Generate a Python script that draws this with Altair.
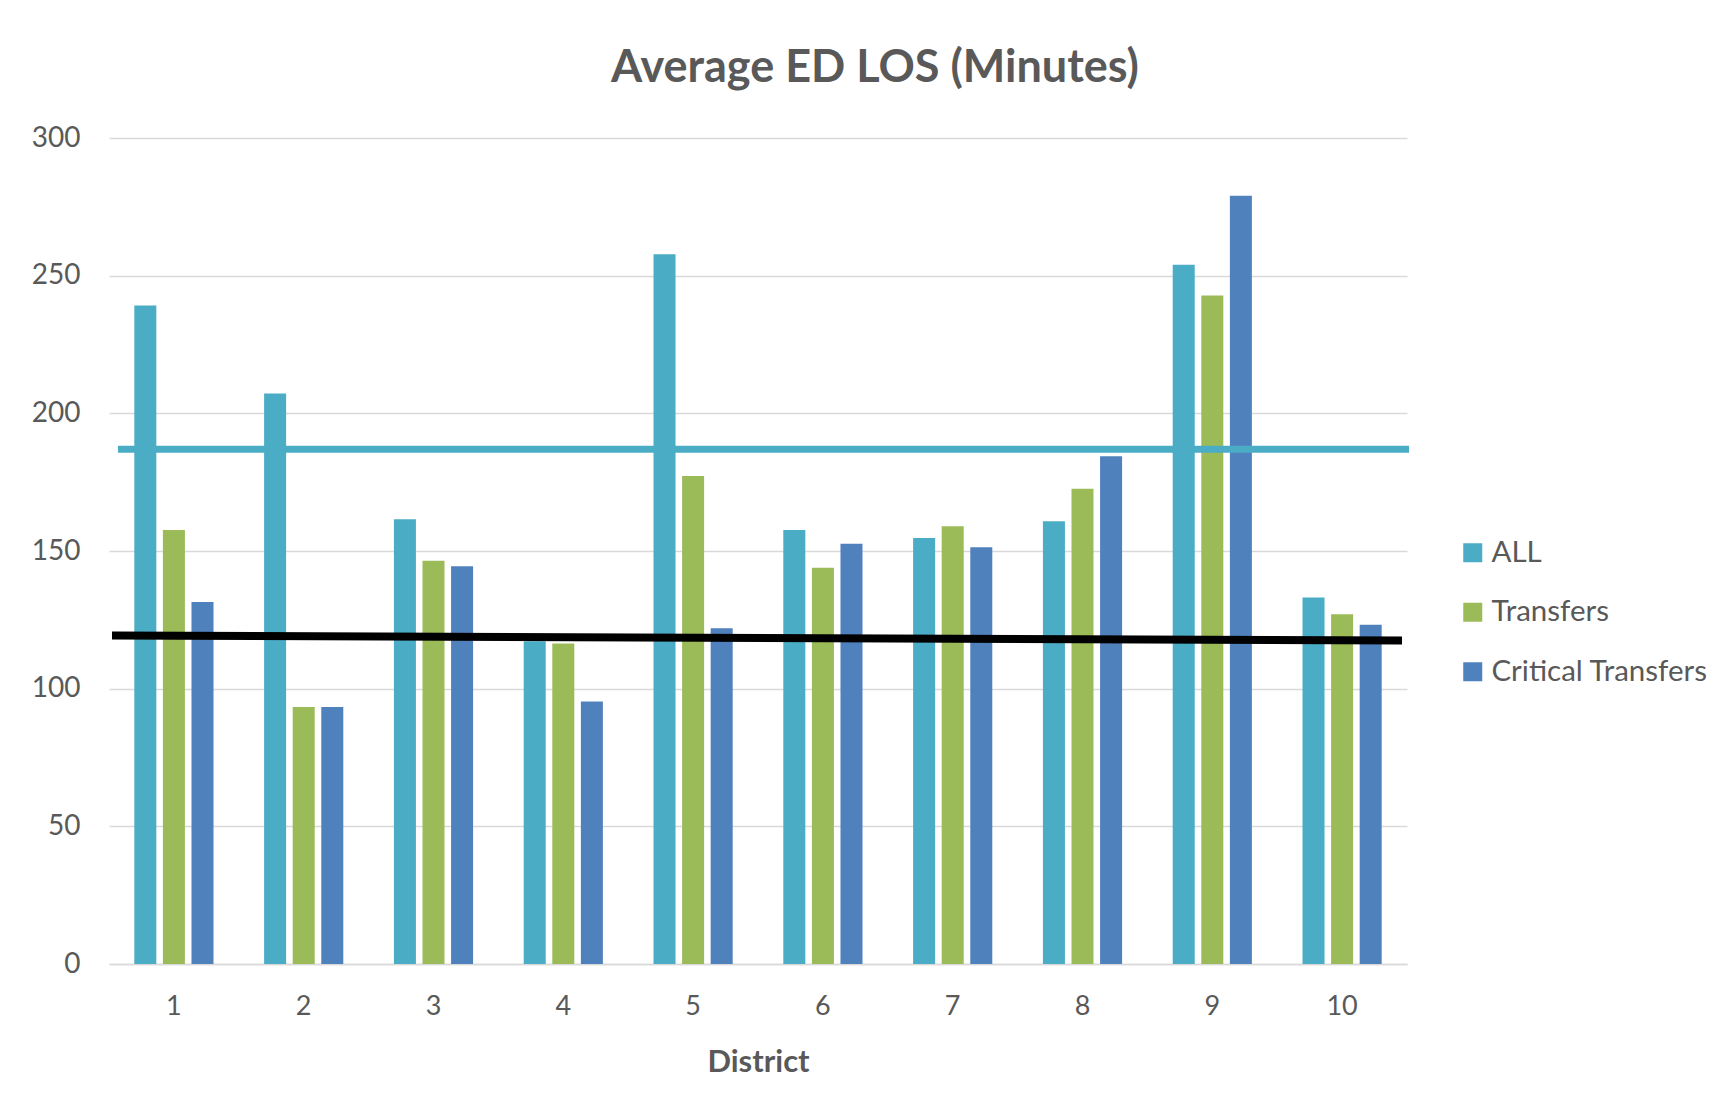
import altair as alt
import pandas as pd

districts = ["1", "2", "3", "4", "5", "6", "7", "8", "9", "10"]
series_names = ["ALL", "Transfers", "Critical Transfers"]
all_vals = [239.2, 207.2, 161.5, 117.2, 257.8, 157.6, 154.7, 160.8, 254.0, 133.1]
transfers_vals = [157.6, 93.3, 146.5, 116.4, 177.2, 143.9, 159.0, 172.6, 242.8, 127.0]
critical_vals = [131.5, 93.3, 144.5, 95.3, 121.9, 152.6, 151.4, 184.4, 279.0, 123.2]
colors = ["#4BACC6", "#9BBB59", "#4F81BD"]
all_average = 187.0
overall_start, overall_end = 119.3, 117.5

rows = []
for name, vals in zip(series_names, [all_vals, transfers_vals, critical_vals]):
    for d, v in zip(districts, vals):
        rows.append({"District": d, "Series": name, "Minutes": v})
df = pd.DataFrame(rows)

FONT = "Lato"
GRAY = "#595959"
W, H = 1298, 826

bars = alt.Chart(df).mark_bar().encode(
    x=alt.X("District:N", sort=districts,
            scale=alt.Scale(paddingInner=0.39, paddingOuter=0.195),
            axis=alt.Axis(title="District", labelAngle=0, labelFontSize=27, labelColor=GRAY,
                          labelFont=FONT, labelPadding=29, ticks=False, domainColor="#D9D9D9",
                          domainWidth=1.5, titleFont=FONT, titleFontSize=31, titleFontWeight="bold",
                          titleColor=GRAY, titlePadding=28)),
    xOffset=alt.XOffset("Series:N", sort=series_names, scale=alt.Scale(paddingInner=0.23, paddingOuter=0)),
    y=alt.Y("Minutes:Q", scale=alt.Scale(domain=[0, 300], nice=False),
            axis=alt.Axis(title=None, values=[0, 50, 100, 150, 200, 250, 300], domain=False, ticks=False,
                          labelFontSize=28, labelColor=GRAY, labelFont=FONT, labelPadding=29,
                          gridColor="#D9D9D9", gridWidth=1.5)),
    color=alt.Color("Series:N", sort=series_names,
                    scale=alt.Scale(domain=series_names, range=colors),
                    legend=alt.Legend(title=None, orient="none", legendX=1349, legendY=400,
                                      symbolType="square", symbolSize=361, symbolStrokeWidth=0,
                                      labelFontSize=29.5, labelFont=FONT, labelColor=GRAY,
                                      labelOffset=4, rowPadding=28.5, padding=0, labelLimit=400)),
)

avg_df = pd.DataFrame({"y": [all_average]})
avg_line = alt.Chart(avg_df).mark_rule(color="#4BACC6", strokeWidth=7, strokeCap="butt").encode(
    y="y:Q", x=alt.value(9), x2=alt.value(W + 2)
)

overall_df = pd.DataFrame({"y": [overall_start], "y2": [overall_end]})
overall_line = alt.Chart(overall_df).mark_rule(color="#000000", strokeWidth=8, strokeCap="butt").encode(
    y="y:Q", y2="y2:Q", x=alt.value(3), x2=alt.value(W - 5)
)

chart = alt.layer(bars, avg_line, overall_line).properties(
    width=W, height=H,
    title=alt.TitleParams("Average ED LOS (Minutes)", font=FONT, fontSize=45, fontWeight="bold",
                          color=GRAY, anchor="middle", dx=117, offset=33),
    autosize=alt.AutoSizeParams(type="none"),
    padding={"left": 101, "top": 130, "right": 310, "bottom": 140},
    background="white",
).configure_view(stroke=None)

chart.save("out.html", embed_options={"renderer": "svg", "actions": False})
